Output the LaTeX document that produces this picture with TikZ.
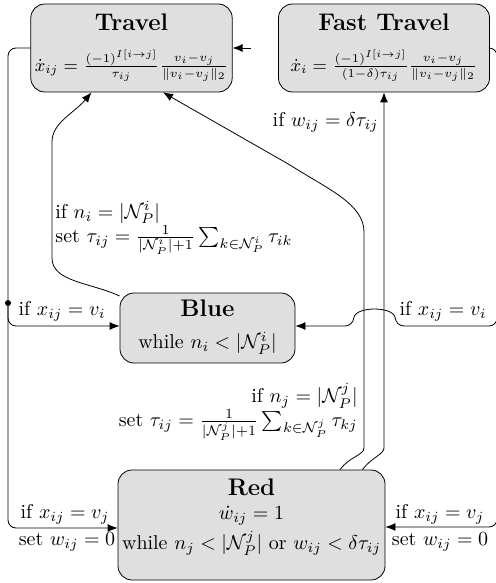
\documentclass[tikz,border=0pt]{standalone}
\usepackage{amsmath,amssymb}
\usetikzlibrary{arrows.meta}
\begin{document}
\begin{tikzpicture}[x=0.5pt,y=-0.5pt,
  state/.style={draw, fill=gray!25, rounded corners=7pt, align=center, inner sep=2pt},
  conn/.style={-{Latex[length=5pt,width=4pt]}, rounded corners=4pt},
  lbl/.style={inner sep=1pt}]
\useasboundingbox (0,0) rectangle (495,583);
% states
\node[state, minimum width=98.5pt, minimum height=44pt] (travel) at (131.5,48)
  {\begin{tabular}{@{}c@{}}{\large\bfseries Travel}\\[6pt]
   \small$\dot{x}_{ij} = \frac{(-1)^{I[i\to j]}}{\tau_{ij}}\frac{v_i-v_j}{\|v_i-v_j\|_2}$\end{tabular}};
\node[state, minimum width=105.5pt, minimum height=44pt] (fast) at (384,48)
  {\begin{tabular}{@{}c@{}}{\large\bfseries Fast Travel}\\[6pt]
   \small$\dot{x}_{i} = \frac{(-1)^{I[i\to j]}}{(1-\delta)\tau_{ij}}\frac{v_i-v_j}{\|v_i-v_j\|_2}$\end{tabular}};
\node[state, minimum width=87.5pt, minimum height=35pt] (blue) at (207.5,328)
  {\begin{tabular}{@{}c@{}}{\large\bfseries Blue}\\[4pt] while $n_i < |\mathcal{N}_P^i|$\end{tabular}};
\node[state, minimum width=133.5pt, minimum height=55pt] (red) at (251.5,525)
  {\raisebox{0pt}[\height][\dimexpr\depth+7pt\relax]{\begin{tabular}{@{}c@{}}{\large\bfseries Red}\\[0pt]
   $\dot{w}_{ij} = 1$\\[2pt]
   while $n_j < |\mathcal{N}_P^j|$ or $w_{ij} < \delta\tau_{ij}$\end{tabular}}};
% left side
\coordinate (lsplit) at (8,303);
\draw[conn] (travel.west) -- (8,48) -- (8,528) -- ([yshift=-1.5pt]red.west);
\fill (lsplit) circle (1.5pt);
\draw[conn] (lsplit) -- (8,326) -- ([yshift=1pt]blue.west);
\node[lbl] (l1) at (62,311) {if $x_{ij} = v_i$};
\node[lbl] (l2) at (65,514) {if $x_{ij} = v_j$};
\node[lbl] (l3) at (67,542) {set $w_{ij} = 0$};
% right side
\coordinate (rtop) at (497,48);
\coordinate (rmid) at (497,300);
\draw[conn] (fast.east) -- (rtop) -- (497,326) -- (396,326)
  .. controls (394,306) and (355,306) .. (353,326) -- ([yshift=1pt]blue.east);
\draw[conn] (rmid) -- (497,527) -- ([yshift=-1pt]red.east);
\node[lbl] (r1) at (443,311) {if $x_{ij} = v_i$};
\node[lbl] (r2) at (440,514) {if $x_{ij} = v_j$};
\node[lbl] (r3) at (440,542) {set $w_{ij} = 0$};
% short arrow into Travel
\coordinate (tin) at (251,48);
\draw[conn] (tin) -- (travel.east);
% Blue -> Travel
\draw[conn] (blue.160) to[out=155,in=-90] (52,250) -- (52,150)
  to[out=90,in=-130] ([xshift=-20pt]travel.south);
\node[lbl, anchor=west, align=left] (bl) at (53,228)
  {if $n_i = |\mathcal{N}_P^i|$\\
   set $\tau_{ij} = \frac{1}{|\mathcal{N}_P^i|+1}\sum_{k\in\mathcal{N}_P^i}\tau_{ik}$};
% Red -> Travel
\draw[conn] ([xshift=44.25pt]red.north) to[out=55,in=-90] (364,440) -- (364,240)
  .. controls (364,205) and (330,190) .. (290,165) -- ([xshift=15.75pt]travel.south);
\node[lbl, anchor=east, align=right] (rl) at (360,412)
  {if $n_j = |\mathcal{N}_P^j|$\\
   set $\tau_{ij} = \frac{1}{|\mathcal{N}_P^j|+1}\sum_{k\in\mathcal{N}_P^j}\tau_{kj}$};
% Red -> Fast Travel
\draw[conn] ([xshift=55.5pt]red.north) to[out=55,in=-90] (384,440) -- (fast.south);
\node[lbl, anchor=east] (fl) at (381,122) {if $w_{ij} = \delta\tau_{ij}$};
\end{tikzpicture}
\end{document}
